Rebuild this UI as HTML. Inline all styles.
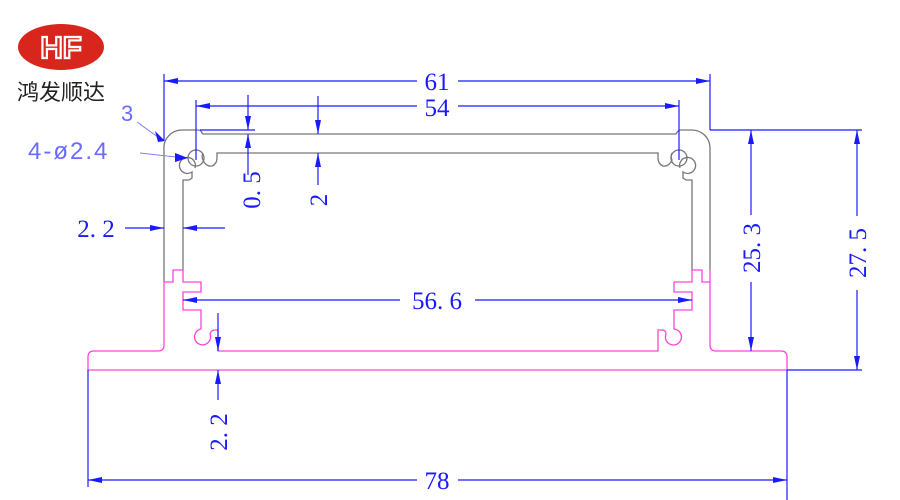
<!DOCTYPE html>
<html><head><meta charset="utf-8"><style>
html,body{margin:0;padding:0;background:#fff;}
svg{display:block;}
text{font-family:"Liberation Serif",serif;fill:#1a1aff;}
</style></head><body>
<svg width="900" height="500" viewBox="0 0 900 500" xmlns="http://www.w3.org/2000/svg">
<defs>
<marker id="b" viewBox="0 0 14 6" refX="14" refY="3" markerWidth="14" markerHeight="6" orient="auto-start-reverse" markerUnits="userSpaceOnUse"><path d="M0,0 L14,3 L0,6 Z" fill="#1a1aff"/></marker>
</defs>
<!-- logo -->
<ellipse cx="61" cy="47" rx="43" ry="23" fill="#d9261c"/>
<text x="61" y="58" text-anchor="middle" style="font-family:'Liberation Sans',sans-serif;font-size:31px;font-weight:bold;fill:#d9261c;stroke:#fff;stroke-width:2.2">HF</text>
<text x="17" y="100" style="font-family:'Liberation Sans','Noto Sans CJK SC',sans-serif;font-size:22px;fill:#222">鸿发顺达</text>

<g fill="none" stroke-width="1.3">
<g stroke="#777">
<path d="M164,282 L164,150 A18,18 0 0 1 182,130 L198,130 Q201,130 202,133 L203,134 L676,134 Q678,130 681,130 L692,130 A18,18 0 0 1 710,148 L710,270"/>
<path d="M692,270 L692,180 L686,180 L683,178 L683,172 A8,8 0 1 0 680,168"/>
<path d="M183,270 L183,180 L189,180 L192,178 L192,172 A8,8 0 1 1 195,168"/>
<path d="M203,160 A8,8 0 0 1 203,153 M203,160 Q206,167 212,166 Q217,164 217,158 L217,153 L658,153 L658,158 Q658,164 663,166 Q669,167 672,160 A8,8 0 0 1 672,153"/>
<circle cx="196" cy="158" r="8"/><circle cx="679" cy="158" r="8"/>
</g>
<g stroke="#ff44dd">
<path d="M164,282 L164,345 Q164,351 158,351 L94,351 Q88,351 88,357 L88,370 L787,370 L787,357 Q787,351 781,351 L716,351 Q710,351 710,345 L710,270"/>
<path d="M164,282 L173,282 L173,270 L183,270 L183,282 L201,282 L201,292 L183,292 L183,310 L201,310 L201,329 A8,8 0 1 0 210,334 Q211,330 215,330 L218,330 L218,351 L658,351 L658,330 L662,330 Q666,330 666,334 A8,8 0 1 0 674,329 L674,310 L692,310 L692,292 L674,292 L674,282 L692,282 L692,270 L702,270 L702,282 L710,282"/>
</g>
</g>

<g stroke="#1a1aff" stroke-width="1.2" fill="none">
<line x1="164" y1="74" x2="164" y2="140"/><line x1="710" y1="74" x2="710" y2="130"/>
<line x1="164" y1="81" x2="417" y2="81" marker-start="url(#b)"/><line x1="458" y1="81" x2="710" y2="81" marker-end="url(#b)"/>
<line x1="196" y1="100" x2="196" y2="160"/><line x1="679" y1="100" x2="679" y2="160"/>
<line x1="196" y1="106" x2="417" y2="106" marker-start="url(#b)"/><line x1="458" y1="106" x2="679" y2="106" marker-end="url(#b)"/>
<line x1="200" y1="130" x2="255" y2="130"/>
<line x1="248" y1="95" x2="248" y2="130" marker-end="url(#b)"/>
<line x1="248" y1="175" x2="248" y2="134" marker-end="url(#b)"/>
<line x1="318" y1="96" x2="318" y2="134" marker-end="url(#b)"/>
<line x1="318" y1="185" x2="318" y2="153" marker-end="url(#b)"/>
<line x1="125" y1="228" x2="164" y2="228" marker-end="url(#b)"/>
<line x1="225" y1="228" x2="183" y2="228" marker-end="url(#b)"/>
<line x1="400" y1="300" x2="183" y2="300" marker-end="url(#b)"/>
<line x1="475" y1="300" x2="692" y2="300" marker-end="url(#b)"/>
<line x1="218" y1="313" x2="218" y2="351" marker-end="url(#b)"/>
<line x1="218" y1="400" x2="218" y2="370" marker-end="url(#b)"/>
<line x1="88" y1="370" x2="88" y2="487"/><line x1="787" y1="370" x2="787" y2="500"/>
<line x1="88" y1="480" x2="417" y2="480" marker-start="url(#b)"/><line x1="458" y1="480" x2="787" y2="480" marker-end="url(#b)"/>
<line x1="710" y1="130" x2="862" y2="130"/>
<line x1="787" y1="370" x2="862" y2="370"/>
<line x1="751" y1="130" x2="751" y2="215" marker-start="url(#b)"/><line x1="751" y1="282" x2="751" y2="351" marker-end="url(#b)"/>
<line x1="857" y1="130" x2="857" y2="216" marker-start="url(#b)"/><line x1="857" y1="290" x2="857" y2="370" marker-end="url(#b)"/>
</g>
<g stroke="#7f7fff" stroke-width="1">
<line x1="137" y1="122" x2="162" y2="140"/>
<line x1="140" y1="153" x2="185" y2="158"/>
</g>
<path d="M155,131 L165,141 L158,142 Z" fill="#1a1aff"/>
<path d="M175,153 L188,158 L175,162 Z" fill="#1a1aff"/>

<g font-size="25">
<text x="437" y="90" text-anchor="middle">61</text>
<text x="437" y="116" text-anchor="middle">54</text>
<text x="437" y="309" text-anchor="middle">56. 6</text>
<text x="437" y="489" text-anchor="middle">78</text>
<text x="96" y="237" text-anchor="middle">2. 2</text>
<text transform="translate(260,190) rotate(-90)" text-anchor="middle">0. 5</text>
<text transform="translate(327,200) rotate(-90)" text-anchor="middle">2</text>
<text transform="translate(227,432) rotate(-90)" text-anchor="middle">2. 2</text>
<text transform="translate(760,248) rotate(-90)" text-anchor="middle">25. 3</text>
<text transform="translate(866,253) rotate(-90)" text-anchor="middle">27. 5</text>
</g>
<text x="121" y="121" style="fill:#6b6bff;font-family:'Liberation Sans',sans-serif;font-size:22px">3</text>
<text x="28" y="159" style="fill:#6b6bff;font-family:'Liberation Sans',sans-serif;font-size:24px;letter-spacing:2px">4-ø2.4</text>
</svg>
</body></html>
